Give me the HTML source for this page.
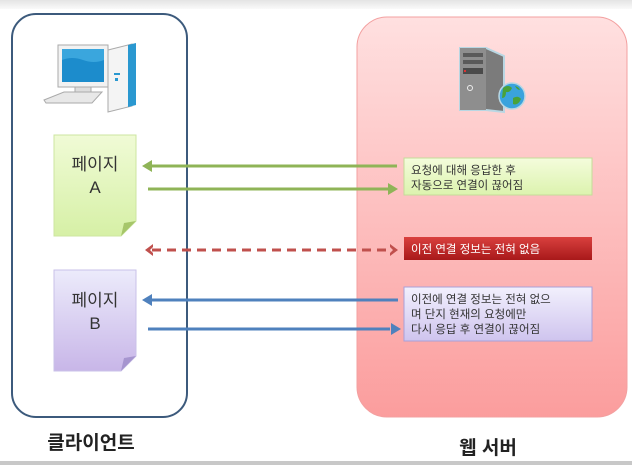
<!DOCTYPE html>
<html><head><meta charset="utf-8"><style>
html,body{margin:0;padding:0;background:#fff;}
svg{display:block;font-family:"Liberation Sans","Noto Sans CJK KR","NanumGothic",sans-serif;}
</style></head><body>
<svg width="632" height="465" viewBox="0 0 632 465" xmlns="http://www.w3.org/2000/svg">
<defs>
<linearGradient id="top" x1="0" y1="0" x2="0" y2="1"><stop offset="0" stop-color="#e4e4e4"/><stop offset="1" stop-color="#fafafa"/></linearGradient>
<linearGradient id="srv" x1="0" y1="0" x2="0" y2="1"><stop offset="0" stop-color="#ffe0e0"/><stop offset="1" stop-color="#fb9d9d"/></linearGradient>
<linearGradient id="pa" x1="0" y1="0" x2="0" y2="1"><stop offset="0" stop-color="#f0fbd6"/><stop offset="1" stop-color="#d6f0a6"/></linearGradient>
<linearGradient id="pb" x1="0" y1="0" x2="0" y2="1"><stop offset="0" stop-color="#ecebfb"/><stop offset="1" stop-color="#c8b6e8"/></linearGradient>
<linearGradient id="gb" x1="0" y1="0" x2="0" y2="1"><stop offset="0" stop-color="#f4fcdc"/><stop offset="1" stop-color="#dcf3ae"/></linearGradient>
<linearGradient id="rb" x1="0" y1="0" x2="0" y2="1"><stop offset="0" stop-color="#d9403e"/><stop offset="1" stop-color="#a8191a"/></linearGradient>
<linearGradient id="bb" x1="0" y1="0" x2="0" y2="1"><stop offset="0" stop-color="#f2f0fd"/><stop offset="1" stop-color="#cfc4ee"/></linearGradient>
</defs>
<rect x="0" y="0" width="632" height="9" fill="url(#top)"/>
<rect x="0" y="461" width="632" height="4" fill="#c8c8c8"/>
<!-- client -->
<rect x="12" y="14" width="175" height="403" rx="24" fill="#fff" stroke="#3c5a7c" stroke-width="2"/>
<!-- server -->
<rect x="357" y="17" width="270" height="400" rx="30" fill="url(#srv)" stroke="#f3a0a0" stroke-width="1"/>
<!-- computer icon -->
<g>
<rect x="58" y="45" width="50" height="42" fill="#f2f2f2" stroke="#aaa"/>
<rect x="62" y="49" width="42" height="33" fill="#3aa6dd"/>
<path d="M62 60 q10 -4 21 0 t21 0 v22 h-42z" fill="#1c8ccc"/>
<rect x="75" y="87" width="16" height="6" fill="#ddd" stroke="#aaa"/>
<path d="M44 100 l20 -8 h38 l-10 11 h-46z" fill="#e8e8e8" stroke="#aaa"/>
<path d="M108 50 l24 -6 v62 l-24 6z" fill="#f4f4f4" stroke="#aaa"/>
<path d="M128 45 l8 -2 v62 l-8 2z" fill="#2a98d0"/>
<rect x="114" y="73" width="6" height="2" fill="#2a98d0"/><rect x="115" y="78" width="3" height="3" fill="#2a98d0"/>
</g>
<!-- server icon -->
<g>
<path d="M460 48 l26 0 l18 8 v56 l-18 -2 h-26z" fill="#7b7b7b" stroke="#b9d7e3" stroke-width="2"/>
<rect x="460" y="48" width="26" height="62" fill="#8e8e8e"/>
<rect x="463" y="53" width="20" height="4" fill="#5a5a5a"/><rect x="463" y="60" width="20" height="4" fill="#5a5a5a"/>
<rect x="463" y="68" width="20" height="6" fill="#4a4a4a"/><rect x="464" y="70" width="2" height="2" fill="#d33"/>
<circle cx="470" cy="88" r="2.5" fill="none" stroke="#eee"/>
<circle cx="512" cy="96" r="13" fill="#3aa3dd" stroke="#b9d7e3" stroke-width="1.5"/>
<path d="M503 88 q5 -4 9 0 q-2 5 -6 4 q0 6 -4 6z M513 98 q5 -3 8 1 q-3 7 -8 5z M515 86 q4 1 5 4 q-3 0 -5 -4z" fill="#4aa23a"/>
</g>
<!-- page A -->
<path d="M54 135 h82 v86 l-15 15 h-67z" fill="url(#pa)" stroke="#cde6a0"/>
<path d="M121 236 l3 -13 l12 -2z" fill="#a6c66a"/>
<text x="95" y="170" font-size="17" text-anchor="middle" fill="#333">페이지</text>
<text x="95" y="193" font-size="17" text-anchor="middle" fill="#333">A</text>
<!-- page B -->
<path d="M54 270 h82 v86 l-15 15 h-67z" fill="url(#pb)" stroke="#c9c1e8"/>
<path d="M121 371 l3 -13 l12 -2z" fill="#a695cf"/>
<text x="95" y="306" font-size="17" text-anchor="middle" fill="#333">페이지</text>
<text x="95" y="329" font-size="17" text-anchor="middle" fill="#333">B</text>
<!-- green arrows -->
<line x1="150" y1="166" x2="397" y2="166" stroke="#8fb457" stroke-width="3"/>
<path d="M142 166 l10 -6 v12z" fill="#8fb457"/>
<line x1="148" y1="189" x2="388" y2="189" stroke="#8fb457" stroke-width="3"/>
<path d="M398 189 l-10 -6 v12z" fill="#8fb457"/>
<rect x="404" y="158" width="188" height="37" fill="url(#gb)" stroke="#c5dc99"/>
<text x="411" y="174" font-size="11.5" fill="#333">요청에 대해 응답한 후</text>
<text x="411" y="189" font-size="11.5" fill="#333">자동으로 연결이 끊어짐</text>
<!-- red dashed -->
<line x1="152" y1="250" x2="390" y2="250" stroke="#c0504d" stroke-width="3" stroke-dasharray="9,6"/>
<path d="M145 250 l8 -6 v3 l-3 3 l3 3 v3z" fill="#c0504d"/>
<path d="M398 250 l-8 -6 v3 l3 3 l-3 3 v3z" fill="#c0504d"/>
<rect x="404" y="237" width="188" height="23" fill="url(#rb)"/>
<text x="411" y="253" font-size="11.5" fill="#fff">이전 연결 정보는 전혀 없음</text>
<!-- blue arrows -->
<line x1="150" y1="300" x2="398" y2="300" stroke="#4f81bd" stroke-width="3"/>
<path d="M142 300 l10 -6 v12z" fill="#4f81bd"/>
<line x1="148" y1="329" x2="390" y2="329" stroke="#4f81bd" stroke-width="3"/>
<path d="M401 329 l-10 -6 v12z" fill="#4f81bd"/>
<rect x="404" y="287" width="188" height="54" fill="url(#bb)" stroke="#a9a0d8"/>
<text x="411" y="303" font-size="11.5" fill="#333">이전에 연결 정보는 전혀 없으</text>
<text x="411" y="318" font-size="11.5" fill="#333">며 단지 현재의 요청에만</text>
<text x="411" y="333" font-size="11.5" fill="#333">다시 응답 후 연결이 끊어짐</text>
<!-- labels -->
<text x="91" y="449" font-size="19" font-weight="bold" text-anchor="middle" fill="#222">클라이언트</text>
<text x="488" y="454" font-size="19" font-weight="bold" text-anchor="middle" fill="#222">웹 서버</text>
</svg>
</body></html>
